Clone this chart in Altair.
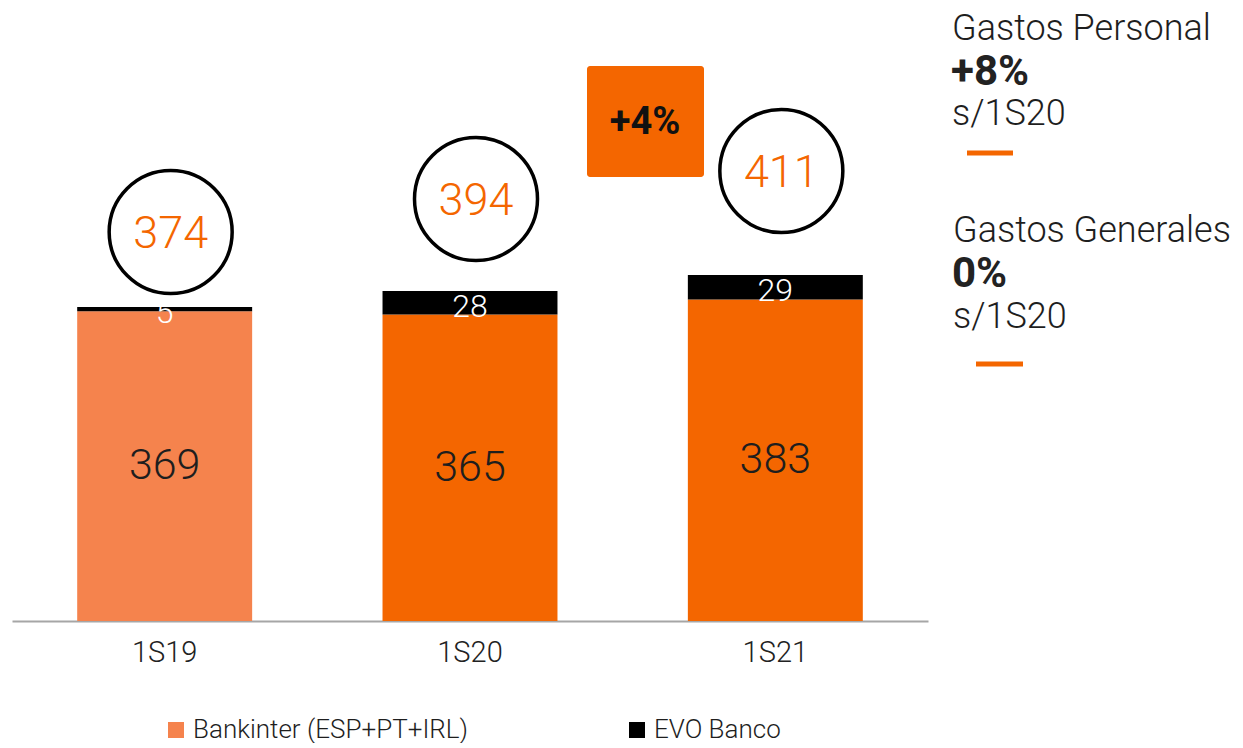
import altair as alt
import pandas as pd

# ---- data ----
categories = ["1S19", "1S20", "1S21"]
bankinter = [369, 365, 383]
evo = [5, 28, 29]
totals = [374, 394, 411]
series_names = ["Bankinter (ESP+PT+IRL)", "EVO Banco"]

ORANGE = "#F46600"
LIGHT = "#F5834D"
FONT = "Roboto"
DARK = "#1E1E1E"

rows = []
for i, c in enumerate(categories):
    b, e = bankinter[i], evo[i]
    rows.append(dict(cat=c, series=series_names[0],
                     key=series_names[0] if i == 0 else "Bankinter_actual",
                     y0=0, y1=b, mid=b / 2, label=str(b), order=0))
    rows.append(dict(cat=c, series=series_names[1], key=series_names[1],
                     y0=b, y1=b + e, mid=b + e / 2, label=str(e), order=1))
df = pd.DataFrame(rows)
tot = pd.DataFrame(dict(cat=categories, total=totals))

xenc = alt.X("cat:N", sort=categories,
             scale=alt.Scale(paddingInner=0.427, paddingOuter=0.2135),
             axis=alt.Axis(title=None, labelAngle=0, ticks=False, grid=False,
                           domainColor="#A6A6A6", domainWidth=2,
                           labelFontSize=29, labelColor="#222222",
                           labelPadding=17, labelFont=FONT, labelFontWeight=300))
yscale = alt.Scale(domain=[0, 730], nice=False)

base = alt.Chart(df)
bars = base.mark_bar().encode(
    x=xenc,
    y=alt.Y("y1:Q", scale=yscale, axis=None),
    y2="y0:Q",
    color=alt.Color("key:N",
                    scale=alt.Scale(domain=[series_names[0], series_names[1], "Bankinter_actual"],
                                    range=[LIGHT, "#000000", ORANGE]),
                    legend=alt.Legend(orient="none", legendX=151, legendY=709,
                                      direction="horizontal", title=None,
                                      symbolType="square", symbolSize=256,
                                      symbolStrokeWidth=0,
                                      labelFontSize=26, labelFont=FONT, labelFontWeight=300,
                                      labelColor=DARK, labelLimit=400,
                                      columnPadding=155, labelOffset=4,
                                      values=series_names)),
    order=alt.Order("order:Q"),
)

bk_text = base.transform_filter("datum.order == 0").mark_text(
    font=FONT, fontSize=43, fontWeight=300, color=DARK, baseline="middle"
).encode(x=alt.X("cat:N", sort=categories), y=alt.Y("mid:Q", scale=yscale, axis=None), text="label:N")

evo_text = base.transform_filter("datum.order == 1").mark_text(
    font=FONT, fontSize=32, fontWeight=300, color="white", baseline="middle", dy=4
).encode(x=alt.X("cat:N", sort=categories), y=alt.Y("mid:Q", scale=yscale, axis=None), text="label:N")

cscale = alt.Scale(domain=[138.3, 509.8], nice=False, zero=False)
circles = alt.Chart(tot).mark_point(shape="circle", size=15129, filled=False,
                                    stroke="black", strokeWidth=3.5, opacity=1,
                                    xOffset=6).encode(
    x=alt.X("cat:N", sort=categories),
    y=alt.Y("total:Q", scale=cscale, axis=None))
circ_text = alt.Chart(tot).mark_text(font=FONT, fontSize=45, fontWeight=300,
                                     color=ORANGE, baseline="middle", dx=6, dy=2).encode(
    x=alt.X("cat:N", sort=categories),
    y=alt.Y("total:Q", scale=cscale, axis=None),
    text="total:N")

one = pd.DataFrame({"a": [0]})

def note(txt, x, y, size, weight=300, color=DARK, align="left", baseline="alphabetic"):
    return alt.Chart(one).mark_text(text=txt, font=FONT, fontSize=size, fontWeight=weight,
                                    color=color, align=align, baseline=baseline).encode(
        x=alt.value(x), y=alt.value(y))

def dash(x1, x2, y):
    return alt.Chart(one).mark_rule(color=ORANGE, strokeWidth=5).encode(
        x=alt.value(x1), x2=alt.value(x2), y=alt.value(y))

box = alt.Chart(one).mark_rect(color=ORANGE, cornerRadius=3).encode(
    x=alt.value(575), x2=alt.value(692), y=alt.value(58), y2=alt.value(169))
box_text = note("+4%", 633, 115, 38, weight="bold", color="#111111", align="center", baseline="middle")

annots = [
    box, box_text,
    note("Gastos Personal", 940, 32, 36),
    note("+8%", 939, 77, 42, weight="bold", color="#222222"),
    note("s/1S20", 940, 117, 36),
    dash(955, 1001, 145),
    note("Gastos Generales", 941, 234, 36),
    note("0%", 940, 279, 42, weight="bold", color="#222222"),
    note("s/1S20", 941, 320, 36),
    dash(964, 1011, 356),
]

chart = alt.layer(bars, bk_text, evo_text, circles, circ_text, *annots).resolve_scale(
    y="independent"
).properties(
    width=916, height=613,
    padding={"left": 4, "top": 0, "right": 0, "bottom": 0},
).configure(font=FONT).configure_view(stroke=None, strokeWidth=0)

chart.save("out.html", embed_options={"renderer": "svg", "actions": False})
